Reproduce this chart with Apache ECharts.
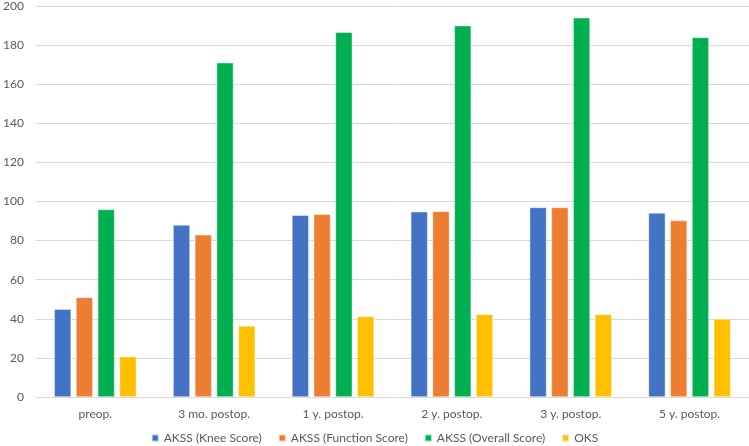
<!DOCTYPE html>
<html>
<head>
<meta charset="utf-8">
<script src="https://cdn.jsdelivr.net/npm/echarts@6/dist/echarts.min.js"></script>
<style>html,body{margin:0;padding:0;background:#fff}#c{width:749px;height:446px}</style>
</head>
<body>
<div id="c"></div>
<script>
const categories = ['preop.', '3 mo. postop.', '1 y. postop.', '2 y. postop.', '3 y. postop.', '5 y. postop.'];
const kneeScore = [45, 88, 93, 94.8, 97, 94.2];
const functionScore = [51, 83, 93.5, 95, 97, 90.3];
const overallScore = [96, 171, 186.6, 190, 194, 184];
const oks = [20.7, 36.4, 41.2, 42.3, 42.3, 40];
const seriesNames = ['AKSS (Knee Score)', 'AKSS (Function Score)', 'AKSS (Overall Score)', 'OKS'];
const colors = ['#4472C4', '#ED7D31', '#00B050', '#FFC000'];

const font = 'Lato, "Open Sans", sans-serif';
const chart = echarts.init(document.getElementById('c'));
const data = [kneeScore, functionScore, overallScore, oks];
chart.setOption({
  animation: false,
  color: colors,
  grid: { left: 30, right: 0, top: 6, bottom: 49, containLabel: false },
  legend: {
    data: seriesNames,
    top: 427,
    left: 'center',
    icon: 'rect',
    itemWidth: 7,
    itemHeight: 7,
    itemGap: 16,
    textStyle: { color: '#595959', fontSize: 12, fontFamily: font }
  },
  xAxis: {
    type: 'category',
    data: categories,
    axisTick: { show: false },
    axisLine: { lineStyle: { color: '#D9D9D9', width: 1 } },
    axisLabel: { color: '#595959', fontSize: 12, fontFamily: font, margin: 11 }
  },
  yAxis: {
    type: 'value',
    min: 0, max: 200, interval: 20,
    axisLine: { show: false },
    axisTick: { show: false },
    splitLine: { lineStyle: { color: '#D9D9D9', width: 1 } },
    axisLabel: { color: '#595959', fontSize: 12, fontFamily: font, margin: 12 }
  },
  series: seriesNames.map((n, i) => ({
    name: n,
    type: 'bar',
    data: data[i],
    barWidth: 17,
    barGap: '28%',
    itemStyle: { borderColor: 'rgba(255,255,255,0.6)', borderWidth: 0.7 }
  }))
});
</script>
</body>
</html>
